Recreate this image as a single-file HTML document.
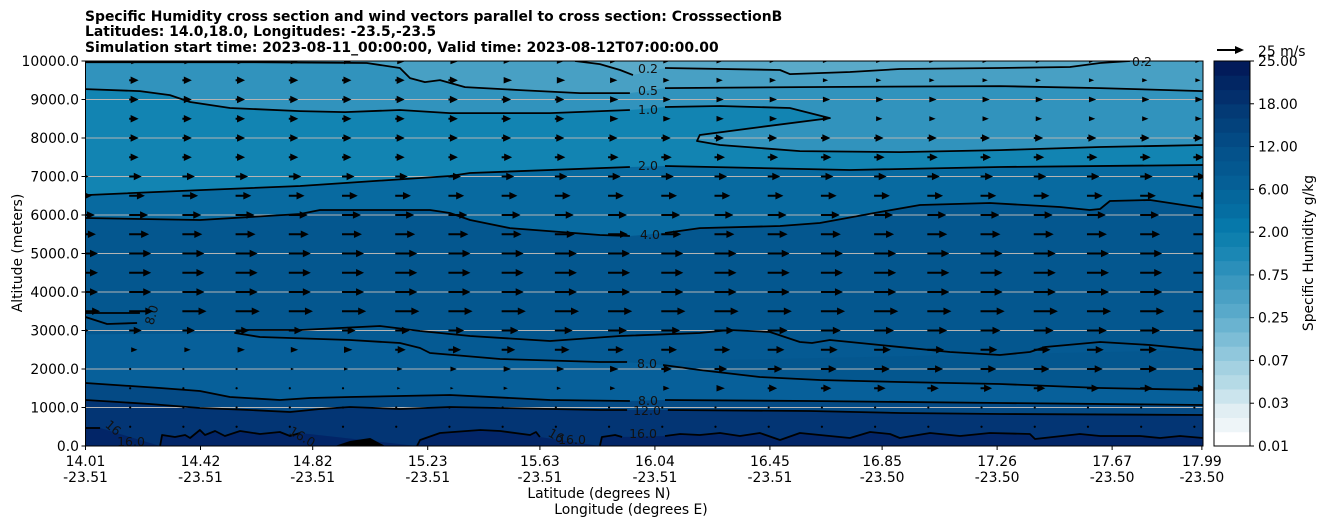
<!DOCTYPE html>
<html><head><meta charset="utf-8"><style>
html,body{margin:0;padding:0;background:#fff;}
svg{display:block;font-family:"DejaVu Sans","Liberation Sans",sans-serif;}
</style></head><body>
<svg id="chart" width="1326" height="526" viewBox="0 0 1326 526" xmlns="http://www.w3.org/2000/svg">
<defs><clipPath id="plotclip"><rect x="85.5" y="61" width="1117.5" height="385"/></clipPath></defs>
<g font-weight="bold" font-size="13.9" fill="#000">
<text x="85" y="21">Specific Humidity cross section and wind vectors parallel to cross section: CrosssectionB</text>
<text x="85" y="36">Latitudes: 14.0,18.0, Longitudes: -23.5,-23.5</text>
<text x="85" y="52">Simulation start time: 2023-08-11_00:00:00, Valid time: 2023-08-12T07:00:00.00</text>
</g>
<g id="fills" clip-path="url(#plotclip)"></g>
<g id="grid"></g>
<g id="contours" clip-path="url(#plotclip)"></g>
<g id="clabels" font-size="12.5" fill="#111" text-anchor="middle"></g>
<g id="arrows" clip-path="url(#plotclip)"></g>
<rect x="85.5" y="61" width="1117.5" height="385" fill="none" stroke="#000" stroke-width="1"/>
<g id="axes" font-size="13.9" fill="#000"></g>
<g id="cbar"></g>
</svg>
<script>
const xTickLats = [14.01,14.42,14.82,15.23,15.63,16.04,16.45,16.85,17.26,17.67,17.99];
const xTickLat = ["14.01","14.42","14.82","15.23","15.63","16.04","16.45","16.85","17.26","17.67","17.99"];
const xTickLon = ["-23.51","-23.51","-23.51","-23.51","-23.51","-23.51","-23.51","-23.50","-23.50","-23.50","-23.50"];
const yTicks = [0,1000,2000,3000,4000,5000,6000,7000,8000,9000,10000];
const cbarTicks = ["0.01","0.03","0.07","0.25","0.75","2.00","6.00","12.00","18.00","25.00"];
const windAlts = [10000,9500,9000,8500,8000,7500,7000,6500,6000,5500,5000,4500,4000,3500,3000,2500,2000,1500,1000,500,0];
const windSpeed = [
[8,8,8,8,8,8,8,8,7,7,6,6,6,5,5,5,5,5,5,5,5,5],
[9,9,9,9,9,9,9,9,8,8,7,6,6,6,5,5,5,5,5,5,5,5],
[9,9,9,9,9,9,9,9,9,9,8,7,7,7,7,7,7,7,7,7,7,7],
[9,9,9,9,9,9,9,9,9,9,8,7,7,7,6,6,6,6,6,6,6,6],
[9,9,9,9,9,9,9,9,9,9,9,9,9,9,9,9,9,9,9,9,9,9],
[9,9,9,9,9,9,9,9,10,10,10,10,10,10,10,10,10,10,10,10,10,10],
[12,12,12,12,12,12,12,12,12,12,12,12,12,12,12,12,12,12,12,12,12,12],
[15,15,15,15,15,15,15,15,15,15,15,15,15,15,15,15,15,15,15,15,15,15],
[18,18,18,18,18,18,18,18,18,18,18,18,18,18,18,18,18,18,18,18,18,18],
[19,19,19,19,19,19,19,19,19,19,19,19,19,19,19,19,19,19,19,19,19,19],
[21,21,21,21,21,21,21,21,21,21,21,21,21,21,21,21,21,21,21,21,21,21],
[21,21,21,21,21,21,21,21,21,21,21,21,21,21,21,21,21,21,21,21,21,21],
[21,21,21,21,21,21,21,21,21,21,21,21,21,21,21,21,21,21,21,21,21,21],
[23,23,23,23,23,23,23,23,23,23,23,23,23,23,23,23,23,23,23,23,23,23],
[12,12,12,13,13,13,14,15,16,17,18,18,19,19,19,19,19,19,19,19,19,19],
[6,6,6,7,7,8,10,12,13,14,15,15,15,16,16,16,16,16,16,16,16,16],
[1,1,2,2,3,4,5,6,7,7,8,10,12,14,15,15,15,15,15,15,16,16],
[1,1,1,1,2,2,3,3,4,4,5,6,8,9,10,11,11,11,11,12,12,12],
[1,1,1,1,1,1,1,1,1,1,1,1,1,1,1,1,1,1,1,1,1,1],
[1,1,1,1,1,1,1,1,1,1,1,1,1,1,1,1,1,1,1,1,1,1],
[0,0,0,0,0,0,0,0,0,0,0,0,0,0,0,0,0,0,0,0,0,0]];
const c02a = [[15.755,10000],[15.844,9920],[15.916,9765],[15.962,9635]];
const c02b = [[16.076,9817],[16.486,9765],[16.521,9661],[16.735,9713],[16.913,9791],[17.27,9817],[17.52,9843],[17.627,9947],[17.734,10000]];
const c05a = [[14.01,9970],[14.596,9970],[15.013,9947],[15.131,9817],[15.167,9557],[15.22,9453],[15.274,9505],[15.363,9323],[15.559,9245],[15.773,9167],[15.951,9167]];
const c05b = [[16.076,9297],[16.557,9323],[17.27,9349],[17.627,9297],[17.994,9219]];
const c10a = [[14.01,9271],[14.204,9219],[14.311,9115],[14.383,8934],[14.525,8778],[14.775,8700],[14.935,8674],[15.131,8726],[15.309,8648],[15.666,8648],[15.951,8726]];
const c10b = [[16.076,8804],[16.272,8830],[16.521,8778],[16.664,8518],[16.414,8284],[16.2,8077],[16.19,7921],[16.272,7817],[16.557,7661],[16.913,7635],[17.27,7687],[17.627,7765],[17.994,7817]];
const c20a = [[14.01,6518],[14.418,6648],[14.775,6752],[15.309,7012],[15.381,7090],[15.951,7246]];
const c20b = [[16.076,7272],[16.735,7168],[17.27,7246],[17.994,7298]];
const c40a = [[14.01,5921],[14.418,5869],[14.775,6025],[14.846,6129],[15.096,6129],[15.238,6129],[15.309,6051],[15.381,5869],[15.523,5661],[15.844,5480],[15.951,5454]];
const c40b = [[16.076,5532],[16.2,5661],[16.486,5713],[16.628,5791],[16.842,6077],[16.985,6259],[17.234,6311],[17.484,6207],[17.59,6129],[17.627,6155],[17.662,6363],[17.805,6389],[17.994,6181]];
const c80foldA = [[17.994,2493],[17.805,2623],[17.627,2701],[17.431,2571],[17.377,2441],[17.27,2363],[17.092,2441],[16.842,2623],[16.664,2753],[16.6,2675],[16.557,2701],[16.45,2961],[16.307,3013],[16.2,2935],[15.916,2857],[15.666,2727],[15.381,2857],[15.203,2987],[15.06,3116],[14.775,3013],[14.579,3013],[14.543,2935],[14.632,2831],[14.953,2753],[15.131,2675],[15.203,2545],[15.238,2415],[15.488,2259],[15.844,2181],[15.941,2181]];
const c80foldB = [[16.069,2104],[16.2,1974],[16.414,1792],[16.628,1714],[16.913,1662],[17.27,1610],[17.627,1506],[17.994,1454]];
const c80frag1 = [[14.01,3454],[14.204,3454]];
const c80frag2 = [[14.01,3350],[14.087,3168],[14.194,3194]];
const c80lowA = [[14.01,1636],[14.276,1506],[14.418,1428],[14.525,1273],[14.703,1195],[14.81,1247],[14.953,1273],[15.309,1324],[15.666,1195],[15.951,1169]];
const c80lowB = [[16.076,1195],[16.593,1169],[17.27,1117],[17.994,1065]];
const c120a = [[14.01,1195],[14.24,1091],[14.418,987],[14.596,935],[14.739,883],[14.846,961],[14.953,1013],[15.131,961],[15.309,1013],[15.488,987],[15.844,935],[15.941,935]];
const c120b = [[16.086,935],[16.593,909],[16.913,857],[17.27,831],[17.994,805]];
const c160f = [[14.01,467],[14.062,467]];
const c160a = [[14.276,0],[14.283,286],[14.329,234],[14.365,286],[14.383,208],[14.418,416],[14.436,286],[14.472,390],[14.507,260],[14.561,390],[14.632,312],[14.703,364],[14.739,260],[14.775,338]];
const c160b = [[15.192,0],[15.203,156],[15.274,338],[15.417,416],[15.488,390],[15.595,286],[15.616,364],[15.63,234]];
const c160c = [[15.844,0],[15.851,234],[15.898,286],[15.923,234]];
const c160d = [[16.076,260],[16.13,312],[16.2,286],[16.272,338],[16.343,260],[16.414,338],[16.486,156],[16.557,338],[16.735,208],[16.807,364],[16.878,312],[16.913,208],[17.021,338],[17.128,260],[17.234,338],[17.377,312],[17.395,182],[17.555,312],[17.627,260],[17.769,260],[17.841,208],[17.912,260],[17.994,208]];
const blob = [[14.899,0],[14.953,130],[15.025,208],[15.078,0]];

const NS="http://www.w3.org/2000/svg";
const X0=85.5, X1=1203, YT=61, YB=446;
function xs(lat){return X0+(lat-14.01)*(X1-X0)/(17.994-14.01);}
function ys(alt){return YB-alt*(YB-YT)/10000;}
function mk(tag,attrs,parent){const e=document.createElementNS(NS,tag);for(const k in attrs)e.setAttribute(k,attrs[k]);parent.appendChild(e);return e;}
function pts(arr){return arr.map(p=>xs(p[0]).toFixed(1)+","+ys(p[1]).toFixed(1)).join(" ");}

const fills=document.getElementById('fills');
function below(arr,color,name){
  const all=arr.concat([[18.1,arr[arr.length-1][1]],[18.1,0],[13.9,0],[13.9,arr[0][1]]]);
  const p=mk('polygon',{points:pts(all),fill:color},fills);
  
  
}
let r=mk('rect',{x:85,y:61,width:1120,height:386,fill:'#5aaac9'},fills);


below([[14.01,10100],[15.7,10100]].concat(c02a,c02b,[[17.994,10100]]),'#48a0c4','fill-0.2-0.5');
below(c05a.concat(c05b),'#3193bd','fill-0.5-1.0');
below(c10a.concat(c10b),'#1284b2','fill-1.0-2.0');
below(c20a.concat(c20b),'#086aa0','fill-2.0-4.0');
below(c40a.concat(c40b),'#04578f','fill-4.0-8.0');
below([[14.01,2900]].concat(c80foldA.slice(21),c80foldB),'#07609a','fill-light-2000m');
let fp=mk('polygon',{points:pts(c80foldA),fill:'#055a93'},fills);


below(c80lowA.concat(c80lowB),'#044a85','fill-8.0-12.0');
below(c120a.concat(c120b),'#033574','fill-12.0-16.0');
below(c160f.concat(c160a,c160b,c160c,c160d),'#022567','fill-above-16.0');
let bp=mk('polygon',{points:pts(blob),fill:'#000'},fills);



const grid=document.getElementById('grid');
yTicks.forEach(t=>{ if(t>0&&t<10000){ const l=mk('line',{x1:X0,x2:X1,y1:ys(t),y2:ys(t),stroke:'#b4b4b4','stroke-width':1},grid);

}});

const cont=document.getElementById('contours');
[c02a,c02b,c05a,c05b,c10a,c10b,c20a,c20b,c40a,c40b,c80foldA,c80foldB,c80frag1,c80frag2,c80lowA,c80lowB,c120a,c120b,c160f,c160a,c160b,c160c,c160d].forEach(a=>{
  const pl=mk('polyline',{points:pts(a),fill:'none',stroke:'#000','stroke-width':1.8,'stroke-linejoin':'round'},cont);
  
  
});

const cl=document.getElementById('clabels');
[["0.2",648,73,0],["0.5",648,95,0],["1.0",648,114,0],["2.0",648,170,0],["4.0",650,239,0],["8.0",647,368,0],["8.0",648,405,0],["12.0",647,415,0],["16.0",643,438,0],["8.0",152,319,-75],["16",113,432,40],["16.0",131,446,0],["16.0",302,441,30],["16",556,440,30],["16.0",572,444,0],["0.2",1142,66,0]].forEach(d=>{
  const t=mk('text',{x:d[1],y:d[2],transform:'rotate('+d[3]+' '+d[1]+' '+(d[2]-4)+')'},cl);
  t.textContent=d[0];
  
  
});

const arr=document.getElementById('arrows');
const colStart=13.976, colStep=0.1897, pxPerMs=1.05;
windAlts.forEach((alt,ri)=>{
  windSpeed[ri].forEach((s,ci)=>{
    if(s<=0) return;
    const x=xs(colStart+ci*colStep), y=ys(alt), L=s*pxPerMs;
    let e;
    if(L<3){ e=mk('circle',{cx:x+1,cy:y,r:1.1,fill:'#000'},arr); }
    else if(L<9){ const hw=3.5*L/9;
      e=mk('polygon',{points:`${x+2},${y-hw} ${x+2+L},${y} ${x+2},${y+hw}`,fill:'#000'},arr);}
    else { const h=8;
      e=mk('path',{d:`M${x},${y-1} L${x+L-h},${y-1} L${x+L-h},${y-3.8} L${x+L},${y} L${x+L-h},${y+3.8} L${x+L-h},${y+1} L${x},${y+1} Z`,fill:'#000'},arr);}
    
    
  });
});

const ax=document.getElementById('axes');
xTickLats.forEach((v,i)=>{
  const x=xs(v);
  const tk=mk('line',{x1:x,x2:x,y1:YB,y2:YB+4,stroke:'#000'},ax);
  
  
  const t=mk('text',{x:x,y:466,'text-anchor':'middle'},ax);
  t.textContent=xTickLat[i];
  
  
  const t2=mk('text',{x:x,y:482,'text-anchor':'middle'},ax);
  t2.textContent=xTickLon[i];
  
  
});
yTicks.forEach(v=>{
  const y=ys(v);
  const tk=mk('line',{x1:X0-4,x2:X0,y1:y,y2:y,stroke:'#000'},ax);
  
  
  const t=mk('text',{x:79,y:y+5,'text-anchor':'end'},ax);
  t.textContent=v.toFixed(1);
  
  
});
let xt=mk('text',{x:599,y:498,'text-anchor':'middle'},ax); xt.textContent='Latitude (degrees N)';


let xt2=mk('text',{x:631,y:514,'text-anchor':'middle'},ax); xt2.textContent='Longitude (degrees E)';


let yt=mk('text',{x:22,y:253,'text-anchor':'middle',transform:'rotate(-90 22 253)'},ax); yt.textContent='Altitude (meters)';



const cb=document.getElementById('cbar');
const cbColors=['#ffffff','#eef5f8','#e1eef3','#cbe4ed','#b5dae6','#a4d1e1','#90c7dc','#7dbdd6','#6ab3d0','#58a9ca','#4aa0c4','#3b98bf','#2b8fba','#1b87b4','#0f80ae','#0678aa','#056ea2','#05679c','#055f96','#045890','#04528b','#034a84','#03427c','#033a75','#032f6c','#022663','#021b5a'];
const CX=1214, CW=36, bh=(YB-YT)/cbColors.length;
cbColors.forEach((c,i)=>{
  const b=mk('rect',{x:CX,y:YB-(i+1)*bh,width:CW,height:bh+0.5,fill:c},cb);
  
  
});
let cbf=mk('rect',{x:CX,y:YT,width:CW,height:YB-YT,fill:'none',stroke:'#000'},cb);


cbarTicks.forEach((lab,i)=>{
  const y=YB-i*(YB-YT)/(cbarTicks.length-1);
  const tk=mk('line',{x1:CX+CW,x2:CX+CW+4,y1:y,y2:y,stroke:'#000'},cb);
  
  
  const t=mk('text',{x:1258,y:y+5,'font-size':13.9},cb);
  t.textContent=lab;
  
  
});
let cbt=mk('text',{x:1313,y:253,'text-anchor':'middle','font-size':13.9,transform:'rotate(-90 1313 253)'},cb);
cbt.textContent='Specific Humidity g/kg';


let key=mk('path',{d:'M1217,49 L1235,49 L1235,46 L1244,50 L1235,54 L1235,51 L1217,51 Z',fill:'#000'},cb);


let kt=mk('text',{x:1258,y:56,'font-size':13.9},cb);
kt.textContent='25 m/s';


</script>
</body></html>
